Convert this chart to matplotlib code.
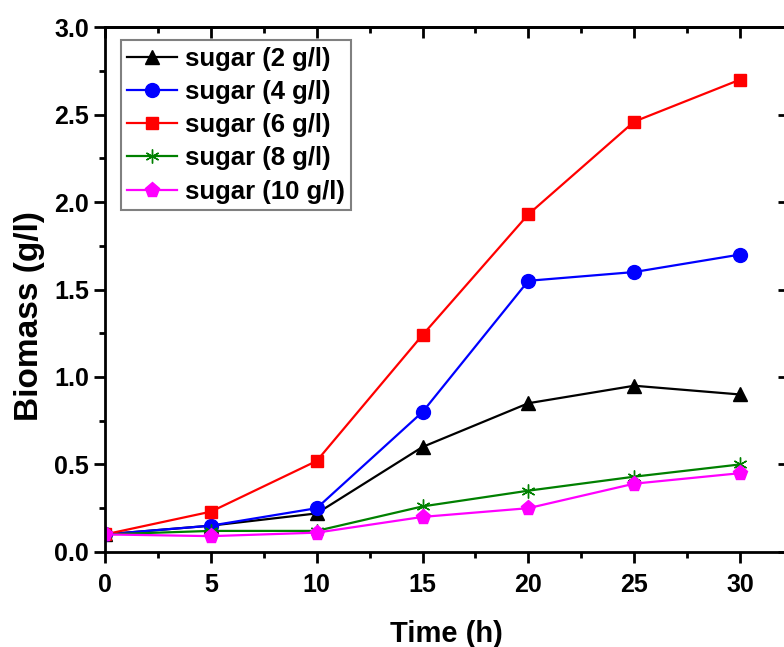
import matplotlib
matplotlib.use("Agg")
from matplotlib import pyplot as plt
from matplotlib.ticker import MultipleLocator, NullLocator

plt.rcParams['font.family'] = ['Liberation Sans', 'DejaVu Sans']
plt.rcParams['font.weight'] = 'bold'

time_h = [0, 5, 10, 15, 20, 25, 30]
sugar_2 = [0.10, 0.15, 0.22, 0.60, 0.85, 0.95, 0.90]
sugar_4 = [0.10, 0.15, 0.25, 0.80, 1.55, 1.60, 1.70]
sugar_6 = [0.10, 0.23, 0.52, 1.24, 1.93, 2.46, 2.70]
sugar_8 = [0.10, 0.12, 0.12, 0.26, 0.35, 0.43, 0.50]
sugar_10 = [0.10, 0.09, 0.11, 0.20, 0.25, 0.39, 0.45]

series = [
    ("sugar (2 g/l)", sugar_2, 'black', '^', 10),
    ("sugar (4 g/l)", sugar_4, 'blue', 'o', 10),
    ("sugar (6 g/l)", sugar_6, 'red', 's', 9),
    ("sugar (8 g/l)", sugar_8, 'green', 'x', 10),
    ("sugar (10 g/l)", sugar_10, 'magenta', 'p', 11),
]

fig = plt.figure(figsize=(7.84, 6.47), dpi=100)
ax = fig.add_axes([0.134, 0.147, 0.872, 0.811])

for label, vals, color, marker, ms in series:
    if marker == 'x':
        ax.plot(time_h, vals, color=color, lw=1.6, marker=(6, 2, 0), ms=ms,
                mew=1.0, label=label)
    else:
        ax.plot(time_h, vals, color=color, lw=1.6, marker=marker, ms=ms,
                mec=color, label=label)

ax.set_xlim(0, 32.3)
ax.set_ylim(0, 3.0)
ax.xaxis.set_major_locator(MultipleLocator(5))
ax.xaxis.set_minor_locator(MultipleLocator(2.5))
ax.yaxis.set_major_locator(MultipleLocator(0.5))
ax.yaxis.set_minor_locator(MultipleLocator(0.25))
ax.set_yticks([0, 0.5, 1.0, 1.5, 2.0, 2.5, 3.0])
ax.set_yticklabels(["0.0", "0.5", "1.0", "1.5", "2.0", "2.5", "3.0"])

for s in ax.spines.values():
    s.set_linewidth(2)
ax.tick_params(which='major', direction='out', length=8, width=2,
               labelsize=18, top=False, right=False)
ax.tick_params(which='minor', direction='out', length=4, width=2,
               top=False, right=False)
ax.tick_params(axis='x', which='major', pad=7)

# inward ticks on top and right
sec_x = ax.secondary_xaxis('top')
sec_x.xaxis.set_major_locator(MultipleLocator(5))
sec_x.xaxis.set_minor_locator(MultipleLocator(2.5))
sec_x.tick_params(which='major', direction='in', length=8, width=2, labeltop=False)
sec_x.tick_params(which='minor', direction='in', length=4, width=2)
sec_x.spines['top'].set_linewidth(2)
sec_y = ax.secondary_yaxis('right')
sec_y.yaxis.set_major_locator(MultipleLocator(0.5))
sec_y.yaxis.set_minor_locator(NullLocator())
sec_y.tick_params(which='major', direction='in', length=8, width=2, labelright=False)

ax.set_xlabel("Time (h)", fontsize=21, fontweight='bold', labelpad=17)
ax.set_ylabel("Biomass (g/l)", fontsize=24, fontweight='bold')
ax.yaxis.set_label_coords(-0.088, 0.45)

leg = ax.legend(loc='upper left', bbox_to_anchor=(0.023, 0.975),
                borderaxespad=0, prop={'weight': 'bold', 'size': 18.5},
                fancybox=False, edgecolor='gray', framealpha=1,
                handlelength=1.95, borderpad=0.25, labelspacing=0.36,
                handletextpad=0.3)
leg.get_frame().set_linewidth(1.5)

fig.savefig("out.png", dpi=100)
